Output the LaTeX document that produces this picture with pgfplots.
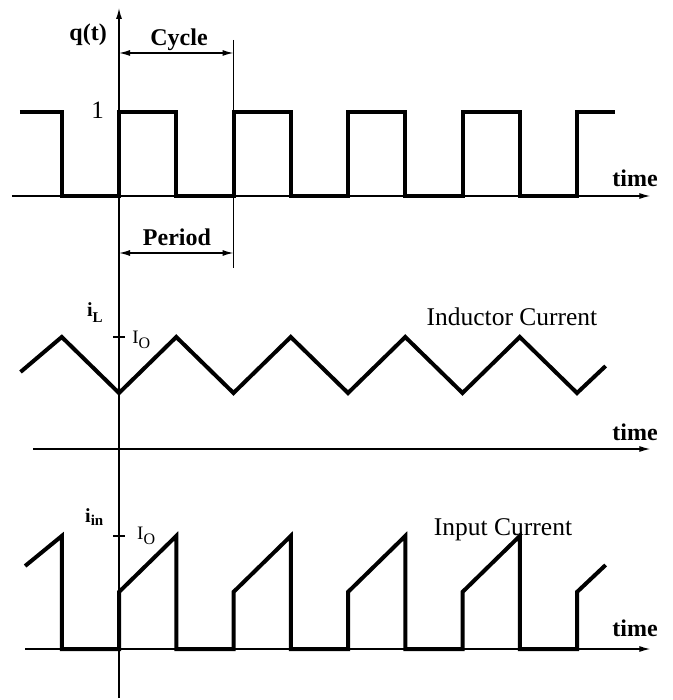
\documentclass[border=0pt]{standalone}
\usepackage{fontspec}
\setmainfont{Liberation Serif}
\usepackage{pgfplots}
\pgfplotsset{compat=1.18}
\usetikzlibrary{arrows.meta}
\begin{document}
\fontsize{24}{28}\selectfont
\begin{tikzpicture}
\begin{axis}[
  width=673pt, height=700pt, scale only axis,
  xmin=-1.0393, xmax=4.8384, ymin=0, ymax=700, y dir=reverse,
  axis lines=none, ticks=none, clip=false,
]
\path (rel axis cs:0,0) rectangle (rel axis cs:1,1);
% axes
\addplot[black, line width=1.3pt, -{Latex[length=11pt,width=6pt]}] coordinates {(-0.935,196) (4.64,196)};
\addplot[black, line width=1.3pt, -{Latex[length=11pt,width=6pt]}] coordinates {(-0.75,449) (4.64,449)};
\addplot[black, line width=1.3pt, -{Latex[length=11pt,width=6pt]}] coordinates {(-0.82,649) (4.64,649)};
\addplot[black, line width=1.3pt, -{Latex[length=11pt,width=6pt]}] coordinates {(0,698) (0,8)};
% period marker
\addplot[black, line width=1.3pt] coordinates {(1,40) (1,268)};
\draw[line width=1.3pt, {Latex[length=11pt,width=6pt]}-{Latex[length=11pt,width=6pt]}] (axis cs:0,53) -- (axis cs:1,53);
\draw[line width=1.3pt, {Latex[length=11pt,width=6pt]}-{Latex[length=11pt,width=6pt]}] (axis cs:0,253) -- (axis cs:1,253);
% I_O ticks
\addplot[black, line width=1.3pt] coordinates {(-0.05,337) (0.05,337)};
\addplot[black, line width=1.3pt] coordinates {(-0.05,536) (0.05,536)};
% q(t)
\addplot[black, line width=4pt, line join=miter] coordinates {
(-0.865,112) (-0.5,112) (-0.5,196) (0,196) (0,112) (0.5,112) (0.5,196) (1,196) (1,112)
(1.5,112) (1.5,196) (2,196) (2,112) (2.5,112) (2.5,196) (3,196) (3,112) (3.5,112)
(3.5,196) (4,196) (4,112) (4.33,112)};
% inductor current
\addplot[black, line width=4pt, line join=miter] coordinates {
(-0.86,372) (-0.5,337) (0,393) (0.5,337) (1,393) (1.5,337) (2,393) (2.5,337) (3,393)
(3.5,337) (4,393) (4.25,366)};
% input current
\addplot[black, line width=4pt, line join=miter] coordinates {
(-0.82,566) (-0.5,536) (-0.5,649) (0,649) (0,592) (0.5,536) (0.5,649) (1,649) (1,592)
(1.5,536) (1.5,649) (2,649) (2,592) (2.5,536) (2.5,649) (3,649) (3,592) (3.5,536)
(3.5,649) (4,649) (4,592) (4.25,565)};
% labels
\node[font=\bfseries] at (axis cs:-0.27,35) {q(t)};
\node[font=\bfseries] at (axis cs:0.524,40) {Cycle};
\node[font=\bfseries] at (axis cs:0.506,237) {Period};
\node[anchor=east, font=\fontsize{25}{25}\selectfont] at (axis cs:-0.06,110) {1};
\node[font=\bfseries] at (axis cs:4.507,178) {time};
\node[font=\bfseries] at (axis cs:4.507,432) {time};
\node[font=\bfseries] at (axis cs:4.507,628) {time};
\node[font=\fontsize{25.5}{28}\selectfont] at (axis cs:3.432,317) {Inductor Current};
\node[font=\fontsize{25.5}{28}\selectfont] at (axis cs:3.354,530) {Input Current};
\node[anchor=base west, inner sep=0pt, font=\fontsize{20}{20}\selectfont\bfseries] at (axis cs:-0.28,316) {i\raisebox{-6pt}{\fontsize{15}{15}\selectfont L}};
\node[anchor=base west, inner sep=0pt, font=\fontsize{19}{19}\selectfont] at (axis cs:0.114,343) {I\raisebox{-5pt}{\fontsize{16}{16}\selectfont O}};
\node[anchor=base west, inner sep=0pt, font=\fontsize{20}{20}\selectfont\bfseries] at (axis cs:-0.297,522) {i\raisebox{-3pt}{\fontsize{15}{15}\selectfont in}};
\node[anchor=base west, inner sep=0pt, font=\fontsize{19}{19}\selectfont] at (axis cs:0.157,539) {I\raisebox{-5pt}{\fontsize{16}{16}\selectfont O}};
\end{axis}
\end{tikzpicture}
\end{document}
